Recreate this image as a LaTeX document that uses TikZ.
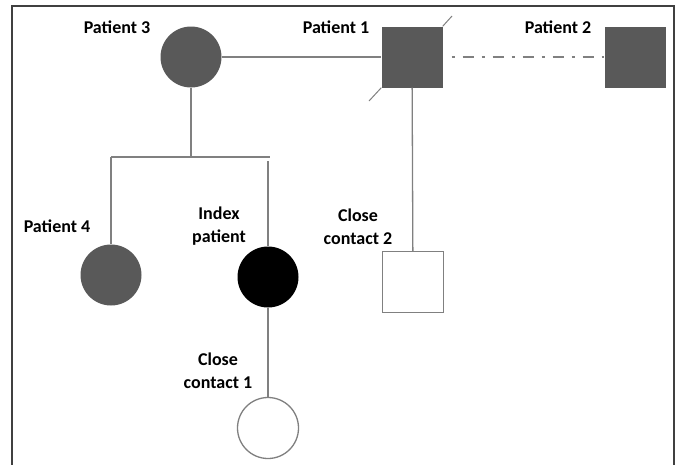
\documentclass[tikz,border=0pt]{standalone}
\usepackage{fontspec}
\setmainfont{Carlito}
\definecolor{patgray}{HTML}{595959}
\definecolor{linegray}{HTML}{808080}
\definecolor{framegray}{HTML}{404040}
\begin{document}
\begin{tikzpicture}[x=1pt, y=-1pt,
    female/.style={circle, minimum size=61pt, inner sep=0pt},
    male/.style={rectangle, minimum size=61pt, inner sep=0pt},
    affected/.style={fill=patgray},
    contact/.style={draw=linegray, line width=1.3pt, fill=white},
    link/.style={draw=linegray, line width=1.3pt},
    lbl/.style={font=\fontsize{18}{23}\selectfont\bfseries, align=center, inner sep=0pt}]
    \useasboundingbox (0,0) rectangle (680,464);
    \draw[framegray, line width=1.2pt] (12,470) -- (12,6) -- (674,6) -- (674,470);

    % patients
    \node[female, affected] (p3) at (191,57) {};
    \node[male, affected] (p1) at (412,57) {};
    \node[male, affected] (p2) at (635,57) {};
    \node[female, affected] (p4) at (111,275) {};
    \node[female, fill=black] (index) at (268,277) {};
    \node[male, contact] (cc2) at (413,282) {};
    \node[female, contact] (cc1) at (268,428) {};

    % labels
    \node[lbl] (lp3) at (117,27) {Patient 3};
    \node[lbl] (lp1) at (336,27) {Patient 1};
    \node[lbl] (lp2) at (558,27) {Patient 2};
    \node[lbl] (lp4) at (57,226) {Patient 4};
    \node[lbl] (lindex) at (219,226) {Index\\ patient};
    \node[lbl] (lcc2) at (358,227) {Close\\ contact 2};
    \node[lbl] (lcc1) at (218,371) {Close\\ contact 1};

    % lines
    \draw[link] (p3) -- (p1);
    \draw[link, dash pattern=on 3pt off 8pt on 11pt off 8pt, shorten <=9pt] (p1) -- (p2);
    \coordinate (slashA) at (452,16);
    \coordinate (slashB) at (369,101);
    \draw[link, line width=1pt] (p1.north east) -- (slashA);
    \draw[link, line width=1pt] (p1.south west) -- (slashB);
    \draw[link] (p1) -- (cc2);

    \coordinate (sib) at (191,157);
    \coordinate (sibL) at (111,157);
    \coordinate (sibR) at (270,157);
    \coordinate (idxtop) at (268,161);
    \draw[link] (p3) -- (sib);
    \draw[link] (sibL) -- (sibR);
    \draw[link] (sibL) -- (p4);
    \draw[link] (idxtop) -- (index);
    \draw[link] (index) -- (cc1);
\end{tikzpicture}
\end{document}
